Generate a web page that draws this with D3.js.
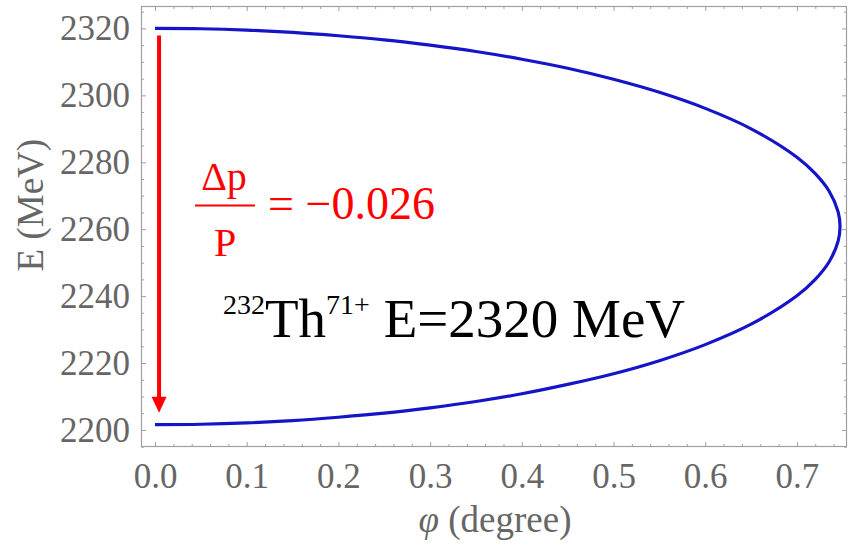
<!DOCTYPE html>
<html>
<head>
<meta charset="utf-8">
<script src="https://cdn.jsdelivr.net/npm/d3@7"></script>
<style>
  body { margin: 0; background: #fff; }
  svg { display: block; }
  .tick text { font-family: "Liberation Serif", "Times New Roman", serif; fill: #666; }
</style>
</head>
<body>
<svg id="chart" width="848" height="547"></svg>
<script>
// Curve: upper branch (phi, E) then lower branch
const upperPhi = [0, 0.05, 0.1, 0.15, 0.2, 0.25, 0.3, 0.35, 0.4, 0.45, 0.5, 0.55, 0.6, 0.65, 0.7, 0.72, 0.735, 0.745, 0.747];
const upperE   = [2320.0, 2319.9, 2319.5, 2318.8, 2317.8, 2316.6, 2315.0, 2313.1, 2310.8, 2308.1, 2304.8, 2300.9, 2296.1, 2290.0, 2281.5, 2276.6, 2271.4, 2265.1, 2260.8];
const lowerPhi = [0.745, 0.735, 0.72, 0.7, 0.65, 0.6, 0.55, 0.5, 0.45, 0.4, 0.35, 0.3, 0.25, 0.2, 0.15, 0.1, 0.05, 0];
const lowerE   = [2256.5, 2250.2, 2245.0, 2240.1, 2231.6, 2225.5, 2220.7, 2216.8, 2213.6, 2210.8, 2208.5, 2206.6, 2205.0, 2203.8, 2202.8, 2202.1, 2201.7, 2201.6];

// Axis ticks
const xTicks = [0.0, 0.1, 0.2, 0.3, 0.4, 0.5, 0.6, 0.7];
const yTicks = [2200, 2220, 2240, 2260, 2280, 2300, 2320];

// Arrow annotation (data coords)
const arrowPhi = 0.0044;
const arrowFromE = 2317.9;
const arrowToE = 2205.1;

const width = 848, height = 547;
const margin = { top: 6, right: 1, bottom: 100, left: 141 };
const serif = '"Liberation Serif", "Times New Roman", serif';

const svg = d3.select('#chart');

const x = d3.scaleLinear()
    .domain([-0.0153, 0.7546])
    .range([margin.left, width - margin.right]);

const y = d3.scaleLinear()
    .domain([2194.9, 2326.7])
    .range([height - margin.bottom, margin.top]);

const xMinor = d3.range(0, 0.76, 0.02).filter(v => Math.abs(v * 10 - Math.round(v * 10)) > 1e-6);
const yMinor = d3.range(2195, 2326, 5).filter(v => v % 20 !== 0);

const plotBottom = height - margin.bottom;
const plotRight = width - margin.right;

// Frame
svg.append('rect')
    .attr('x', margin.left + 0.5)
    .attr('y', margin.top + 0.5)
    .attr('width', plotRight - margin.left - 1)
    .attr('height', plotBottom - margin.top - 1)
    .attr('fill', 'none')
    .attr('stroke', '#a0a0a0')
    .attr('stroke-width', 1.2);

function styleAxis(g) {
    g.select('.domain').remove();
    g.selectAll('.tick line').attr('stroke', '#a0a0a0');
}

// Bottom axis (major with labels)
svg.append('g')
    .attr('transform', `translate(0,${plotBottom})`)
    .call(d3.axisBottom(x).tickValues(xTicks).tickFormat(d3.format('.1f')).tickSize(-5).tickPadding(16))
    .call(styleAxis)
    .call(g => g.selectAll('.tick text').attr('font-size', 35));

svg.append('g')
    .attr('transform', `translate(0,${plotBottom})`)
    .call(d3.axisBottom(x).tickValues(xMinor).tickFormat('').tickSize(-3))
    .call(styleAxis);

// Top ticks
svg.append('g')
    .attr('transform', `translate(0,${margin.top})`)
    .call(d3.axisTop(x).tickValues(xTicks).tickFormat('').tickSize(-5))
    .call(styleAxis);
svg.append('g')
    .attr('transform', `translate(0,${margin.top})`)
    .call(d3.axisTop(x).tickValues(xMinor).tickFormat('').tickSize(-3))
    .call(styleAxis);

// Left axis
svg.append('g')
    .attr('transform', `translate(${margin.left},0)`)
    .call(d3.axisLeft(y).tickValues(yTicks).tickFormat(d3.format('d')).tickSize(-5).tickPadding(11))
    .call(styleAxis)
    .call(g => g.selectAll('.tick text').attr('font-size', 35));
svg.append('g')
    .attr('transform', `translate(${margin.left},0)`)
    .call(d3.axisLeft(y).tickValues(yMinor).tickFormat('').tickSize(-3))
    .call(styleAxis);

// Right ticks
svg.append('g')
    .attr('transform', `translate(${plotRight},0)`)
    .call(d3.axisRight(y).tickValues(yTicks).tickFormat('').tickSize(-5))
    .call(styleAxis);
svg.append('g')
    .attr('transform', `translate(${plotRight},0)`)
    .call(d3.axisRight(y).tickValues(yMinor).tickFormat('').tickSize(-3))
    .call(styleAxis);

// Axis titles
svg.append('text')
    .attr('x', 495)
    .attr('y', 532)
    .attr('text-anchor', 'middle')
    .attr('font-family', serif)
    .attr('font-size', 37)
    .attr('fill', '#666')
    .html('<tspan font-style="italic">φ</tspan> (degree)');

svg.append('text')
    .attr('transform', `translate(43,${y(2260) - 24}) rotate(-90)`)
    .attr('text-anchor', 'middle')
    .attr('font-family', serif)
    .attr('font-size', 37)
    .attr('fill', '#666')
    .text('E (MeV)');

// Curve
const points = upperPhi.map((p, i) => [p, upperE[i]])
    .concat(lowerPhi.map((p, i) => [p, lowerE[i]]));

const line = d3.line()
    .x(d => x(d[0]))
    .y(d => y(d[1]))
    .curve(d3.curveCatmullRom.alpha(0.5));

svg.append('path')
    .datum(points)
    .attr('d', line)
    .attr('fill', 'none')
    .attr('stroke', '#1414c8')
    .attr('stroke-width', 3.2);

// Red arrow
const ax = x(arrowPhi);
const headLen = 16, headHalf = 7.5;
svg.append('line')
    .attr('x1', ax).attr('x2', ax)
    .attr('y1', y(arrowFromE))
    .attr('y2', y(arrowToE) - headLen + 1)
    .attr('stroke', '#ff0000')
    .attr('stroke-width', 4);
svg.append('path')
    .attr('d', `M${ax - headHalf},${y(arrowToE) - headLen} L${ax + headHalf},${y(arrowToE) - headLen} L${ax},${y(arrowToE)} Z`)
    .attr('fill', '#ff0000');

// Red fraction annotation
svg.append('text')
    .attr('x', 224).attr('y', 190)
    .attr('text-anchor', 'middle')
    .attr('font-family', serif).attr('font-size', 40)
    .attr('fill', '#ff0000')
    .text('Δp');
svg.append('line')
    .attr('x1', 195).attr('x2', 255)
    .attr('y1', 205.5).attr('y2', 205.5)
    .attr('stroke', '#ff0000').attr('stroke-width', 2);
svg.append('text')
    .attr('x', 225).attr('y', 256)
    .attr('text-anchor', 'middle')
    .attr('font-family', serif).attr('font-size', 40)
    .attr('fill', '#ff0000')
    .text('P');
svg.append('text')
    .attr('x', 268).attr('y', 219)
    .attr('font-family', serif).attr('font-size', 46)
    .attr('fill', '#ff0000')
    .text('= −0.026');

// Black label
svg.append('text')
    .attr('x', 223).attr('y', 337)
    .attr('font-family', serif).attr('font-size', 55)
    .attr('fill', '#000')
    .html('<tspan font-size="28" dy="-23">232</tspan><tspan dy="23">Th</tspan><tspan font-size="28" dy="-23">71+</tspan><tspan dy="23"> E=2320 MeV</tspan>');
</script>
</body>
</html>
